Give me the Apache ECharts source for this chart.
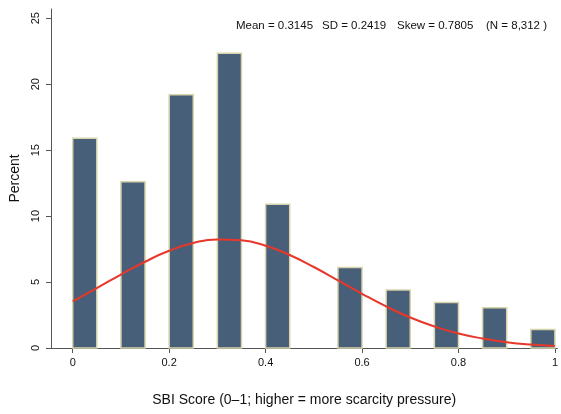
<!DOCTYPE html>
<html><head><meta charset="utf-8">
<script src="https://cdn.jsdelivr.net/npm/echarts@6/dist/echarts.min.js"></script>
<style>html,body{margin:0;padding:0;background:#fff}#c{width:561px;height:414px}</style>
</head><body><div id="c"></div>
<script>
// Histogram bins: [start, end]
var binStarts = [0, 0.1, 0.2, 0.3, 0.4, 0.55, 0.65, 0.75, 0.85, 0.95];
var binEnds   = [0.05, 0.15, 0.25, 0.35, 0.45, 0.6, 0.7, 0.8, 0.9, 1.0];
var percents  = [15.9, 12.6, 19.2, 22.35, 10.9, 6.1, 4.4, 3.45, 3.05, 1.4];
// Normal overlay
var curveX = [0,0.05,0.1,0.15,0.2,0.25,0.3,0.35,0.4,0.45,0.5,0.55,0.6,0.65,0.7,0.75,0.8,0.85,0.9,0.95,1.0];
var curveY = [3.54,4.54,5.57,6.54,7.37,7.96,8.23,8.16,7.75,7.05,6.14,5.13,4.11,3.15,2.31,1.63,1.1,0.72,0.44,0.26,0.15];
var xTicks = [0, 0.2, 0.4, 0.6, 0.8, 1];
var yTicks = [0, 5, 10, 15, 20, 25];
var statsParts = ['Mean = 0.3145', 'SD = 0.2419', 'Skew = 0.7805', '(N = 8,312 )'];
var statsLeft = [236, 322, 397, 486];

var barData = binStarts.map(function(s, i){ return [s, binEnds[i], percents[i]]; });
var lineData = curveX.map(function(x, i){ return [x, curveY[i]]; });
var FONT = '"Liberation Sans", Arial, Helvetica, sans-serif';

var chart = echarts.init(document.getElementById('c'));
chart.setOption({
  animation: false,
  grid: {left: 51, right: 1, top: 9, bottom: 66},
  xAxis: {
    type: 'value', min: -0.045, max: 1.005,
    axisLine: {show: true, onZero: false, lineStyle: {color: '#555', width: 1}},
    axisTick: {show: true, length: 5, lineStyle: {color: '#555'},
      customValues: xTicks},
    axisLabel: {customValues: xTicks, color: '#111', fontSize: 11, fontFamily: FONT, margin: 9,
      formatter: function(v){ return String(+v.toFixed(2)); }},
    splitLine: {show: false},
    name: 'SBI Score (0\u20131; higher = more scarcity pressure)',
    nameLocation: 'middle', nameGap: 45,
    nameTextStyle: {color: '#111', fontSize: 14, fontFamily: FONT}
  },
  yAxis: {
    type: 'value', min: 0, max: 25.7,
    axisLine: {show: true, onZero: false, lineStyle: {color: '#555', width: 1}},
    axisTick: {show: true, length: 5, lineStyle: {color: '#555'}, customValues: yTicks},
    axisLabel: {customValues: yTicks, rotate: 90, color: '#111', fontSize: 11, fontFamily: FONT, margin: 10},
    splitLine: {show: false},
    name: 'Percent', nameLocation: 'middle', nameGap: 28,
    nameTextStyle: {color: '#111', fontSize: 14, fontFamily: FONT}
  },
  graphic: statsParts.map(function(t, i){
    return {type: 'text', left: statsLeft[i], top: 20,
      style: {text: t, fill: '#111', font: '11.5px ' + FONT}};
  }),
  series: [{
    type: 'custom',
    data: barData,
    renderItem: function(params, api){
      var p0 = api.coord([api.value(0), api.value(2)]);
      var p1 = api.coord([api.value(1), 0]);
      return {
        type: 'rect',
        shape: {x: p0[0], y: p0[1], width: p1[0] - p0[0], height: p1[1] - p0[1]},
        style: {fill: '#475f78', stroke: '#d8d4ac', lineWidth: 1.5}
      };
    },
    encode: {x: [0, 1], y: 2},
    z: 2
  }, {
    type: 'line', data: lineData, smooth: true, showSymbol: false,
    lineStyle: {color: '#e8372b', width: 2}, z: 3
  }]
});
</script></body></html>
